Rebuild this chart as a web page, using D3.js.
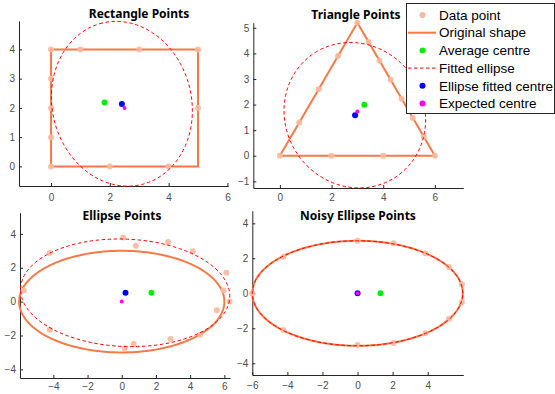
<!DOCTYPE html>
<html>
<head>
<meta charset="utf-8">
<script src="https://cdn.jsdelivr.net/npm/d3@7"></script>
<style>
  body { margin: 0; background: #fff; }
  svg { display: block; font-family: "Liberation Sans", Arial, sans-serif; }
  .tick text { fill: #4d4d4d; font-size: 10px; }
  .domain, .tick line { stroke: #262626; }
  .title { font-family: "Noto Sans", sans-serif; font-weight: bold; font-size: 12px; fill: #000; }
  .legend text { font-family: "Liberation Sans", Arial, sans-serif; font-size: 13.5px; fill: #000; }
</style>
</head>
<body>
<svg id="chart" width="555" height="394"></svg>
<script>
'use strict';

var titles = ['Rectangle Points', 'Triangle Points', 'Ellipse Points', 'Noisy Ellipse Points'];

// sampled points per panel, [x, y]
var rectPoints = [[0,0],[0,1],[0,2],[0,3],[0,4],[1,4],[3,4],[5,4],[5,2],[2,0],[4,0]];
var triPoints = [[0,0],[0.75,1.3],[1.5,2.6],[2.25,3.9],[3,5.2],[3.43,4.45],[3.86,3.71],
                 [4.29,2.97],[4.71,2.23],[5.14,1.48],[5.57,0.74],[6,0],[2,0],[4,0]];
var ellPoints = [[-4.21,2.87],[-5.73,0.66],[-4.21,-1.66],[0.08,3.79],[0.82,3.3],[2.71,3.52],
                 [4.15,2.97],[6.12,1.7],[5.95,0.66],[6.3,0],[5.56,-0.51],[4.58,-1.96],
                 [2.85,-2.21],[0.7,-2.5],[0.18,-2.76]];
var noisyPoints = [[0,3],[2.05,2.86],[3.87,2.28],[5.21,1.5],[5.95,0.51],[5.95,-0.51],[5.21,-1.46],
                   [3.87,-2.28],[2.05,-2.84],[0,-2.95],[-4.22,-2.1],[-6,0],[-4.22,2.09]];

// original shapes: polygons as vertex lists, ellipses as [cx, cy, a, b, angleDeg]
var rectShape = [[0,0],[5,0],[5,4],[0,4],[0,0]];
var triShape = [[0,0],[6,0],[3,5.196],[0,0]];
var ellShape = [0, 0, 6, 3, 0];
var noisyShape = [0, 0, 6, 3, 0];

// fitted ellipses [cx, cy, a, b, angleDeg]
var fitEllipses = [[2.41,2.14,2.84,2.37,103.6],[2.9,1.585,2.89,2.69,120],[0.2,0.52,6.12,3.17,-2.5],[0,0,6,3,0]];

var avgCentres = [[1.82,2.18],[3.27,1.99],[1.74,0.53],[1.31,0]];
var fitCentres = [[2.41,2.13],[2.91,1.58],[0.22,0.53],[0,0]];
var expCentres = [[2.5,2],[3,1.732],[0,0],[0,0]];

var xLims = [[-1.09,6.03],[-1.03,7.1],[-5.95,6.33],[-6,6.03]];
var yLims = [[-0.67,4.97],[-1.26,5.2],[-4.51,5.25],[-4.67,4.72]];
var xTicks = [[0,2,4,6],[0,2,4,6],[-4,-2,0,2,4,6],[-6,-4,-2,0,2,4]];
var yTicks = [[0,1,2,3,4],[-1,0,1,2,3,4,5],[-4,-2,0,2,4],[-4,-2,0,2,4]];

var legendLabels = ['Data point','Original shape','Average centre','Fitted ellipse','Ellipse fitted centre','Expected centre'];

var pointsList = [rectPoints, triPoints, ellPoints, noisyPoints];
var shapes = [rectShape, triShape, ellShape, noisyShape];

// pixel boxes of each axes
var boxes = [
  {l: 19, t: 21, r: 228.3, b: 186, tx: 139, ty: 17.5, pad: 8},
  {l: 253.3, t: 22.7, r: 463.3, b: 188, tx: 356, ty: 19.2, pad: 6},
  {l: 20, t: 212.7, r: 230, b: 378, tx: 122, ty: 220, pad: 5},
  {l: 252.3, t: 210.7, r: 463.3, b: 375, tx: 358, ty: 219.5, pad: 6.5}
];

var lineColor = '#f47a48',
    pointColor = '#f9b89c';

function ellipsePath(e) {
  var phi = e[4] * Math.PI / 180;
  return d3.range(0, 361, 2).map(function(deg) {
    var t = deg * Math.PI / 180;
    return [e[0] + e[2] * Math.cos(t) * Math.cos(phi) - e[3] * Math.sin(t) * Math.sin(phi),
            e[1] + e[2] * Math.cos(t) * Math.sin(phi) + e[3] * Math.sin(t) * Math.cos(phi)];
  });
}

var svg = d3.select('#chart');

boxes.forEach(function(box, i) {
  var x = d3.scaleLinear().domain(xLims[i]).range([box.l, box.r]);
  var y = d3.scaleLinear().domain(yLims[i]).range([box.b, box.t]);
  var g = svg.append('g');

  g.append('g')
    .attr('transform', 'translate(0,' + box.b + ')')
    .call(d3.axisBottom(x).tickValues(xTicks[i]).tickFormat(d3.format('d'))
      .tickSizeInner(-3).tickSizeOuter(0).tickPadding(box.pad));
  g.append('g')
    .attr('transform', 'translate(' + box.l + ',0)')
    .call(d3.axisLeft(y).tickValues(yTicks[i]).tickFormat(d3.format('d'))
      .tickSizeInner(-3).tickSizeOuter(0).tickPadding(4));

  var line = d3.line().x(function(d) { return x(d[0]); }).y(function(d) { return y(d[1]); });

  var shape = shapes[i];
  var shapePts = Array.isArray(shape[0]) ? shape : ellipsePath(shape);
  g.append('path')
    .attr('d', line(shapePts))
    .attr('fill', 'none')
    .attr('stroke', lineColor)
    .attr('stroke-width', 2);

  g.selectAll('circle.pt')
    .data(pointsList[i])
    .enter()
    .append('circle')
    .attr('class', 'pt')
    .attr('cx', function(d) { return x(d[0]); })
    .attr('cy', function(d) { return y(d[1]); })
    .attr('r', 3)
    .attr('fill', pointColor)
    .attr('fill-opacity', 0.9);

  g.append('path')
    .attr('d', line(ellipsePath(fitEllipses[i])))
    .attr('fill', 'none')
    .attr('stroke', '#ff0000')
    .attr('stroke-width', 1)
    .attr('stroke-dasharray', '3.5,2.5');

  g.append('circle')
    .attr('cx', x(avgCentres[i][0])).attr('cy', y(avgCentres[i][1]))
    .attr('r', 3).attr('fill', '#00ee00');
  g.append('circle')
    .attr('cx', x(fitCentres[i][0])).attr('cy', y(fitCentres[i][1]))
    .attr('r', 3).attr('fill', '#0000ff');
  g.append('circle')
    .attr('cx', x(expCentres[i][0])).attr('cy', y(expCentres[i][1]))
    .attr('r', 2).attr('fill', '#ff00ff');

  svg.append('text')
    .attr('class', 'title')
    .attr('x', box.tx)
    .attr('y', box.ty)
    .attr('text-anchor', 'middle')
    .text(titles[i]);
});

// legend
var leg = svg.append('g').attr('class', 'legend');
leg.append('rect')
  .attr('x', 406.5).attr('y', 3.5)
  .attr('width', 148).attr('height', 110)
  .attr('fill', '#fff')
  .attr('stroke', '#262626')
  .attr('stroke-width', 1);

var rowY = d3.scalePoint().domain(legendLabels).range([15, 103.5]);
var markerColors = [pointColor, null, '#00ee00', null, '#0000ff', '#ff00ff'];

legendLabels.forEach(function(lab, k) {
  var yy = rowY(lab);
  if (k === 1) {
    leg.append('line').attr('x1', 408).attr('x2', 436).attr('y1', yy).attr('y2', yy)
      .attr('stroke', lineColor).attr('stroke-width', 2);
  } else if (k === 3) {
    leg.append('line').attr('x1', 408).attr('x2', 436).attr('y1', yy).attr('y2', yy)
      .attr('stroke', '#ff0000').attr('stroke-width', 1).attr('stroke-dasharray', '3.5,2.5');
  } else {
    leg.append('circle').attr('cx', 422.5).attr('cy', yy).attr('r', 3).attr('fill', markerColors[k]);
  }
  leg.append('text')
    .attr('x', 439)
    .attr('y', yy)
    .attr('dy', '0.35em')
    .text(lab);
});
</script>
</body>
</html>
